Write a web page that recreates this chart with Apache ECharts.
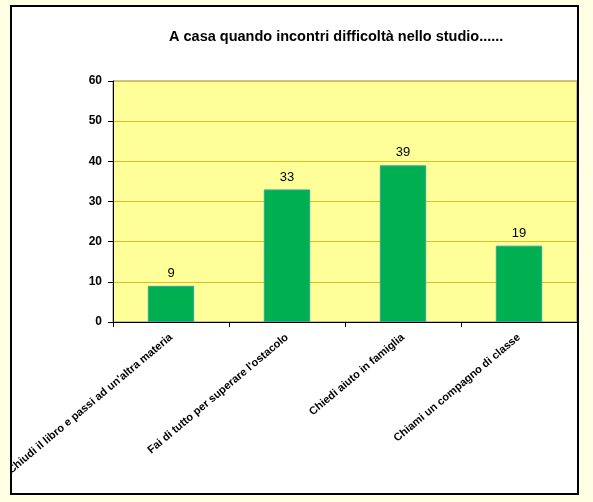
<!DOCTYPE html>
<html>
<head>
<meta charset="utf-8">
<script src="https://cdn.jsdelivr.net/npm/echarts@6/dist/echarts.min.js"></script>
<style>
  html, body { margin: 0; padding: 0; background: #FFFFE3; }
  #frame {
    position: absolute; left: 10px; top: 5px;
    width: 565px; height: 486px;
    border: 2px solid #000; background: #fff; overflow: hidden;
  }
  #main { width: 565px; height: 486px; }
</style>
</head>
<body>
<div id="frame"><div id="main"></div></div>
<script>
var categories = [
    "Chiudi il libro e passi ad un'altra materia",
    "Fai di tutto per superare l'ostacolo",
    "Chiedi aiuto in famiglia",
    "Chiami un compagno di classe"
];
var answers = [9, 33, 39, 19];
var yTicks = [0, 10, 20, 30, 40, 50, 60];

var dom = document.getElementById("main");
var myChart = echarts.init(dom);
var option = null;

option = {
    backgroundColor: '#fff',
    animation: false,
    title: {
        text: 'A casa quando incontri difficoltà nello studio......',
        left: 157,
        top: 22,
        padding: 0,
        textStyle: {
            fontFamily: 'Liberation Sans, Arial',
            fontSize: 14.5,
            fontWeight: 'bold',
            color: '#000'
        }
    },
    grid: {
        left: 101,
        right: 0,
        top: 74,
        bottom: 171,
        containLabel: false,
        outerBoundsMode: 'none',
        show: true,
        backgroundColor: '#FFFF99',
        borderColor: '#808080',
        borderWidth: 1
    },
    xAxis: {
        type: 'category',
        data: categories,
        axisLine: { lineStyle: { color: '#000', width: 1 } },
        axisTick: { show: true, length: 5, lineStyle: { color: '#000' } },
        axisLabel: {
            rotate: 40,
            interval: 0,
            margin: 14,
            hideOverlap: false,
            fontFamily: 'Liberation Sans, Arial',
            fontSize: 11,
            fontWeight: 'bold',
            color: '#000'
        }
    },
    yAxis: {
        type: 'value',
        min: yTicks[0],
        max: yTicks[yTicks.length - 1],
        interval: 10,
        axisLine: { show: true, lineStyle: { color: '#000', width: 1 } },
        axisTick: { show: true, length: 5, lineStyle: { color: '#000' } },
        axisLabel: {
            margin: 11,
            fontFamily: 'Liberation Sans, Arial',
            fontSize: 12,
            fontWeight: 'bold',
            color: '#000'
        },
        splitLine: { lineStyle: { color: '#E0C020', width: 1 } }
    },
    series: [
        {
            name: 'Risposte',
            type: 'bar',
            data: answers,
            barWidth: '40%',
            itemStyle: {
                color: '#00B050',
                borderColor: '#33A3A3',
                borderWidth: 1
            },
            label: {
                show: true,
                position: 'top',
                distance: 6,
                fontFamily: 'Liberation Sans, Arial',
                fontSize: 13,
                color: '#000'
            }
        }
    ]
};

if (option && typeof option === "object") {
    myChart.setOption(option, true);
}
</script>
</body>
</html>
